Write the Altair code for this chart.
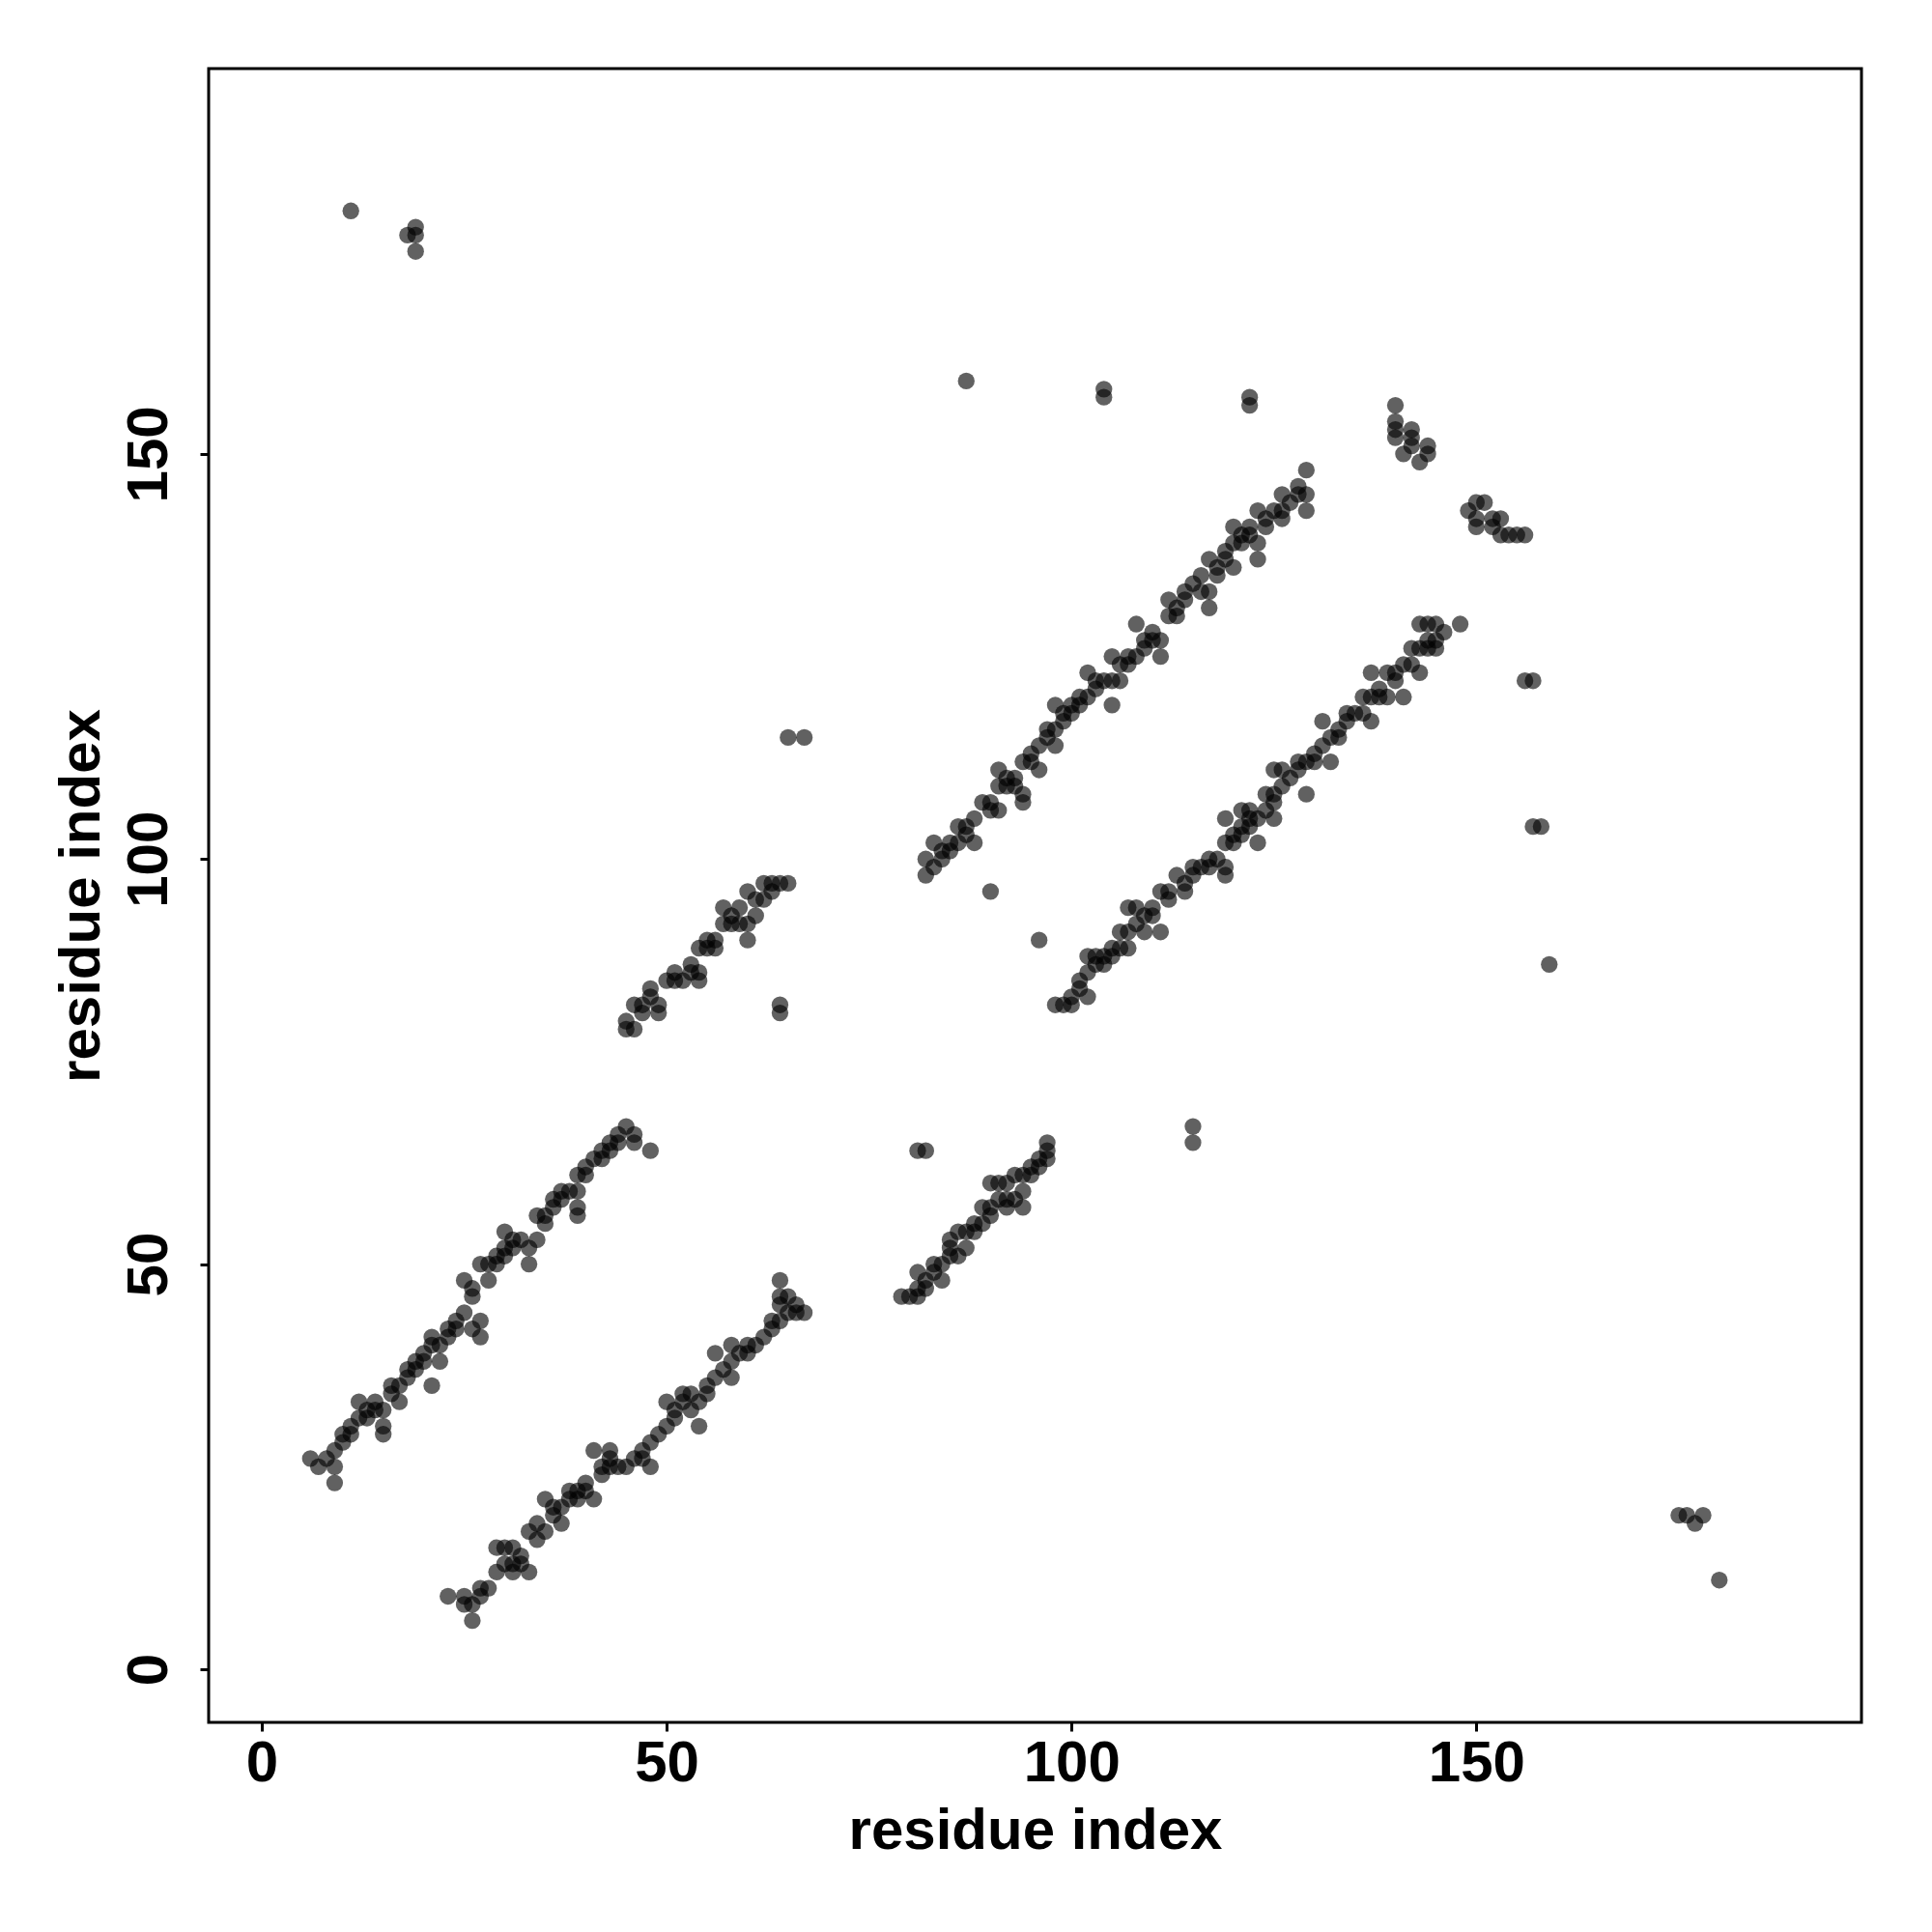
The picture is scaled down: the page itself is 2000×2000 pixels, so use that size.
import altair as alt
import pandas as pd

# contact pairs (residue i, residue j)
band_a = [(6,26),(7,25),(8,26),(9,23),(9,25),(9,27),(10,28),(11,29),(12,31),(12,33),(13,31),(14,32),
          (15,29),(15,30),(15,32),(16,34),(17,33),(16,35),(18,36),(18,37),(20,38),(21,35),(20,39),(21,40),
          (21,41),(22,38),(23,41),(23,42),(24,43),(25,44),(27,43),(27,41),(26,42),(25,48),(26,46),(26,47),
          (27,50),(28,48),(29,51),(30,51),(30,54),(30,52),(31,53),(32,53),(33,50),(33,52),(34,53),(34,56),
          (35,56),(36,58),(37,58),(38,59),(39,56),(39,57),(39,59),(39,61),(40,61),(41,63),(42,63),(42,64),
          (43,64),(44,65),(44,66),(45,67),(46,66),(46,65),(48,64),
          (10,29),(11,30),(13,32),(14,33),(17,35),(19,37),(19,38),(22,40),(24,42),(28,50),(29,50),(31,52),
          (35,55),(36,57),(37,59),(40,62),(43,65)]
band_b = [(23,9),(25,8),(26,8),(26,6),(25,9),(27,9),(28,10),(29,12),(29,15),(30,15),(31,13),(31,12),
          (31,15),(33,12),(33,17),(34,16),(34,18),(35,21),(36,19),(37,18),(37,20),(38,22),(38,21),(39,22),
          (40,23),(41,21),(41,27),(42,24),(42,25),(43,27),(43,25),(43,26),(44,25),(46,26),(47,27),(48,25),
          (48,28),(50,30),(50,33),(51,32),(52,34),(53,32),(53,34),(54,30),(54,33),(55,34),(56,36),(56,39),
          (58,36),(58,38),(58,40),(60,39),(61,40),(62,41),(63,42),(64,43),(64,45),(64,48),(64,46),(65,46),
          (66,45),(67,44),(66,44),
          (27,10),(30,13),(32,14),(32,13),(35,17),(36,20),(39,21),(40,22),(45,25),(47,26),(49,29),(51,31),
          (52,33),(55,35),(57,37),(59,39),(60,40),(63,43),(65,44)]
band_c = [(45,79),(46,79),(45,80),(46,82),(47,81),(49,81),(48,84),(49,82),(50,85),(51,86),(52,85),(53,87),
          (54,85),(54,86),(54,89),(55,90),(56,89),(57,92),(57,94),(58,92),(59,94),(60,90),(60,92),(61,93),
          (60,96),(62,95),(62,97),(63,96),(64,97),(65,97),(64,82),(64,81),(65,115),(67,115),
          (47,82),(48,83),(51,85),(53,86),(55,89),(56,90),(58,93),(59,92),(61,95),(63,97)]
band_d = [(81,64),(82,64),(79,46),(80,46),(81,46),(81,49),(81,47),(82,48),(84,48),(83,50),(85,51),(85,52),
          (85,53),(86,51),(87,52),(86,54),(87,54),(88,55),(89,55),(89,57),(90,56),(90,60),(91,60),(92,58),
          (92,57),(93,58),(92,60),(93,61),(94,57),(94,59),(94,61),(95,62),(96,62),(97,63),(97,64),(97,65),
          (82,47),(83,49),(84,50),(88,54),(90,57),(91,58),(95,61),(96,63)]
band_e = [(82,98),(82,100),(83,99),(83,102),(84,101),(85,102),(86,102),(86,104),(88,102),(88,105),(89,107),
          (91,106),(91,111),(91,109),(92,109),(93,110),(94,107),(94,108),(94,112),(95,113),(96,111),(96,114),
          (97,116),(98,114),(98,119),(98,116),(99,117),(100,118),(101,119),(102,123),(102,120),(103,121),
          (104,122),(105,119),(105,122),(105,125),(106,122),(107,125),(106,124),(108,125),(108,129),(109,127),
          (110,127),(111,125),(111,127),(112,130),(112,132),(113,131),(114,133),(116,135),(116,133),(117,131),
          (117,133),(117,137),(118,136),(119,137),(120,136),(120,139),(120,141),(121,139),(122,141),(123,137),
          (123,139),(123,143),(124,142),(126,145),(126,143),(126,142),(128,146),(129,145),(129,143),(129,148),
          (84,100),(85,101),(87,103),(87,104),(90,106),(90,107),(92,110),(93,109),(95,112),(97,115),(99,118),
          (100,119),(101,120),(103,122),(107,124),(109,126),(110,128),(113,130),(114,132),(115,134),(118,135),
          (119,138),(121,140),(122,140),(124,141),(125,143),(127,144),(128,145)]
band_f = [(98,82),(99,82),(100,82),(100,83),(101,84),(102,83),(101,85),(102,86),(102,88),(103,88),(104,87),
          (104,88),(105,88),(106,89),(106,91),(107,89),(107,91),(107,94),(108,94),(109,91),(109,93),(110,93),
          (111,91),(111,96),(112,95),(113,98),(114,97),(114,96),(115,98),(115,99),(117,99),(117,100),(119,98),
          (119,99),(119,102),(120,102),(121,103),(121,104),(123,102),(119,105),(121,106),(122,105),(124,106),
          (125,108),(122,106),(123,105),(125,105),(125,107),(124,108),(125,111),(126,111),(128,111),(129,108),
          (129,112),(130,112),(131,114),(132,112),(131,117),(133,116),(134,117),(135,118),(136,118),(137,117),
          (136,120),(137,120),(138,120),(137,123),(139,123),(139,120),(141,120),(140,123),(141,124),(142,124),
          (143,123),(142,126),(143,126),(144,127),(145,126),(145,127),(143,129),(144,129),(145,129),(146,128),
          (148,129),
          (103,87),(105,89),(108,92),(110,94),(112,96),(116,99),(118,100),(120,103),(122,104),(126,109),
          (127,110),(128,112),(130,113),(132,115),(133,115),(134,118),(138,121),(140,122),(144,126)]
cluster_up = [(140,156),(140,154),(140,153),(140,152),(141,150),(142,153),(142,152),(142,151),(143,149),
              (144,151),(144,150)]
cluster_low = [(149,143),(150,144),(151,144),(150,142),(150,141),(152,142),(153,142),(153,140),(154,140),
               (155,140),(156,140),(152,141)]
scattered = [(11,180),(18,177),(19,178),(19,177),(19,175),(87,159),(104,158),(104,157),(122,157),(122,156),
             (90,96),(96,90),(115,67),(115,65),(156,122),(157,122),(157,104),(158,104),(159,87),
             (175,19),(176,19),(177,18),(178,19),(180,11)]

tick_values = [0, 50, 100, 150]
axis_domain = [-6.56, 197.56]

pairs = []
for grp in [band_a, band_b, band_c, band_d, band_e, band_f, cluster_up, cluster_low, scattered]:
    pairs.extend(grp)
pairs = list(dict.fromkeys(pairs))
df = pd.DataFrame(pairs, columns=["i", "j"])

FONT = "Liberation Sans"

chart = alt.Chart(df).mark_circle().encode(
    x=alt.X("i:Q", scale=alt.Scale(domain=axis_domain, nice=False, zero=False),
            axis=alt.Axis(values=tick_values, title="residue index", grid=False, domain=False,
                          tickSize=9, tickWidth=3, tickColor="black", labelPadding=4,
                          labelFlush=False, labelOverlap=False, labelAngle=0,
                          titleX=855.5, titleY=130, titleBaseline="alphabetic", titleAlign="center")),
    y=alt.Y("j:Q", scale=alt.Scale(domain=axis_domain, nice=False, zero=False),
            axis=alt.Axis(values=tick_values, title="residue index", grid=False, domain=False,
                          tickSize=9, tickWidth=3, tickColor="black", labelPadding=35,
                          labelFlush=False, labelOverlap=False, labelAngle=270,
                          labelAlign="center", labelBaseline="alphabetic",
                          titleX=-114, titleY=856, titleBaseline="alphabetic", titleAlign="center",
                          titleAngle=270)),
    size=alt.value(300),
    color=alt.value("#000000"),
    opacity=alt.value(0.62),
).properties(
    width=1711, height=1712,
    padding={"left": 208, "top": 63, "right": 65, "bottom": 209},
    autosize=alt.AutoSizeParams(type="none"),
).configure(
    background="white"
).configure_view(
    stroke="black", strokeWidth=3
).configure_axis(
    labelFont=FONT, titleFont=FONT, labelFontSize=60, titleFontSize=60,
    labelFontWeight="bold", titleFontWeight="bold", labelColor="black", titleColor="black"
)

chart.save("out.html", embed_options={"renderer": "svg", "actions": False})
